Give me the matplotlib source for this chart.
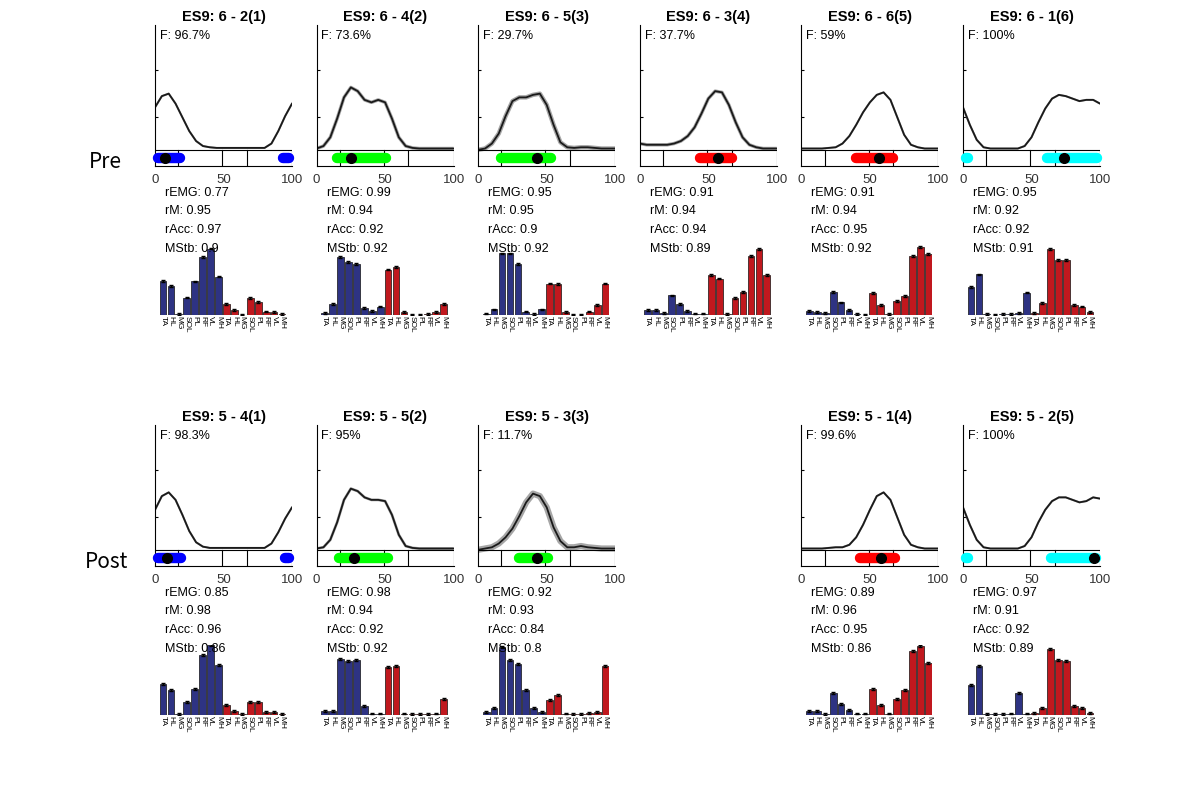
# Synergy panels, Pre and Post sessions
import numpy as np
import matplotlib.pyplot as plt

plt.rcParams['font.family'] = ['Liberation Sans', 'DejaVu Sans']

# ---- data ----
cycle_pct = list(range(0, 101, 5))
muscles = ['TA', 'HL', 'MG', 'SOL', 'PL', 'RF', 'VL', 'MH']
phase_lines = [17, 49, 67]

pre_titles = ['ES9: 6 - 2(1)', 'ES9: 6 - 4(2)', 'ES9: 6 - 5(3)',
              'ES9: 6 - 3(4)', 'ES9: 6 - 6(5)', 'ES9: 6 - 1(6)']
pre_f = ['96.7%', '73.6%', '29.7%', '37.7%', '59%', '100%']
pre_remg = [0.77, 0.99, 0.95, 0.91, 0.91, 0.95]
pre_rm = [0.95, 0.94, 0.95, 0.94, 0.94, 0.92]
pre_racc = [0.97, 0.92, 0.9, 0.94, 0.95, 0.92]
pre_mstb = [0.9, 0.92, 0.92, 0.89, 0.92, 0.91]
pre_curves = [
    [0.34, 0.43, 0.45, 0.37, 0.26, 0.15, 0.07, 0.03, 0.02, 0.015, 0.015,
     0.015, 0.015, 0.015, 0.015, 0.015, 0.015, 0.05, 0.15, 0.27, 0.37],
    [0.01, 0.03, 0.10, 0.25, 0.42, 0.50, 0.47, 0.40, 0.38, 0.40, 0.38,
     0.25, 0.10, 0.03, 0.015, 0.01, 0.01, 0.01, 0.01, 0.01, 0.01],
    [0.0, 0.01, 0.05, 0.13, 0.27, 0.39, 0.42, 0.42, 0.44, 0.45, 0.36,
     0.20, 0.06, 0.02, 0.015, 0.02, 0.02, 0.015, 0.01, 0.01, 0.01],
    [0.05, 0.04, 0.04, 0.04, 0.04, 0.05, 0.07, 0.11, 0.18, 0.29, 0.41,
     0.47, 0.46, 0.36, 0.22, 0.10, 0.04, 0.02, 0.01, 0.01, 0.01],
    [0.01, 0.01, 0.01, 0.01, 0.015, 0.02, 0.05, 0.11, 0.20, 0.30, 0.38,
     0.44, 0.46, 0.40, 0.26, 0.12, 0.04, 0.02, 0.01, 0.01, 0.01],
    [0.34, 0.20, 0.08, 0.02, 0.01, 0.01, 0.01, 0.01, 0.01, 0.03, 0.10,
     0.22, 0.33, 0.41, 0.44, 0.43, 0.41, 0.39, 0.40, 0.40, 0.37],
]
pre_colors = ['#0000ff', '#00ff00', '#00ff00', '#ff0000', '#ff0000', '#00ffff']
pre_ranges = [[(2, 18), (93.5, 98)], [(15, 51)], [(17, 53)],
              [(44, 67)], [(40, 67)], [(2, 4), (61, 98)]]
pre_peak = [7, 25, 43, 57, 57, 73.5]
pre_bars_left = [
    [0.49, 0.41, 0.01, 0.25, 0.48, 0.83, 0.95, 0.55],
    [0.03, 0.16, 0.83, 0.76, 0.73, 0.10, 0.06, 0.12],
    [0.02, 0.08, 0.88, 0.88, 0.73, 0.05, 0.015, 0.08],
    [0.07, 0.07, 0.03, 0.28, 0.16, 0.06, 0.02, 0.02],
    [0.06, 0.04, 0.03, 0.33, 0.18, 0.07, 0.015, 0.005],
    [0.40, 0.58, 0.015, 0.005, 0.01, 0.01, 0.025, 0.32],
]
pre_bars_right = [
    [0.16, 0.07, 0.005, 0.24, 0.19, 0.05, 0.045, 0.01],
    [0.65, 0.69, 0.04, 0.005, 0.005, 0.015, 0.04, 0.16],
    [0.45, 0.44, 0.04, 0.005, 0.005, 0.05, 0.14, 0.45],
    [0.57, 0.52, 0.01, 0.24, 0.33, 0.84, 0.94, 0.57],
    [0.31, 0.14, 0.015, 0.20, 0.27, 0.84, 0.97, 0.87],
    [0.025, 0.17, 0.94, 0.79, 0.79, 0.14, 0.12, 0.04],
]

post_titles = ['ES9: 5 - 4(1)', 'ES9: 5 - 5(2)', 'ES9: 5 - 3(3)',
               'ES9: 5 - 1(4)', 'ES9: 5 - 2(5)']
post_f = ['98.3%', '95%', '11.7%', '99.6%', '100%']
post_remg = [0.85, 0.98, 0.92, 0.89, 0.97]
post_rm = [0.98, 0.94, 0.93, 0.96, 0.91]
post_racc = [0.96, 0.92, 0.84, 0.95, 0.92]
post_mstb = [0.86, 0.92, 0.8, 0.86, 0.89]
post_curves = [
    [0.32, 0.43, 0.46, 0.40, 0.28, 0.15, 0.06, 0.025, 0.015, 0.015, 0.015,
     0.015, 0.015, 0.015, 0.015, 0.015, 0.015, 0.05, 0.14, 0.25, 0.34],
    [0.01, 0.02, 0.08, 0.22, 0.40, 0.49, 0.47, 0.42, 0.40, 0.40, 0.39,
     0.28, 0.12, 0.03, 0.015, 0.01, 0.01, 0.01, 0.01, 0.01, 0.01],
    [0.0, 0.01, 0.02, 0.05, 0.10, 0.17, 0.27, 0.38, 0.45, 0.43, 0.34,
     0.18, 0.07, 0.02, 0.02, 0.03, 0.02, 0.015, 0.01, 0.01, 0.01],
    [0.01, 0.01, 0.01, 0.01, 0.015, 0.02, 0.02, 0.04, 0.10, 0.20, 0.32,
     0.43, 0.46, 0.40, 0.26, 0.12, 0.04, 0.02, 0.01, 0.01, 0.01],
    [0.34, 0.20, 0.08, 0.02, 0.01, 0.01, 0.01, 0.01, 0.01, 0.03, 0.10,
     0.22, 0.32, 0.39, 0.42, 0.42, 0.40, 0.38, 0.39, 0.42, 0.41],
]
post_colors = ['#0000ff', '#00ff00', '#00ff00', '#ff0000', '#00ffff']
post_ranges = [[(2, 19), (95, 98)], [(16, 52)], [(30, 51)],
               [(43, 68)], [(2, 4), (64, 97)]]
post_peak = [9, 27, 43, 58, 95.5]
post_bars_left = [
    [0.44, 0.36, 0.01, 0.19, 0.37, 0.86, 1.0, 0.71],
    [0.06, 0.06, 0.80, 0.77, 0.79, 0.13, 0.02, 0.02],
    [0.04, 0.10, 0.97, 0.79, 0.73, 0.36, 0.10, 0.04],
    [0.06, 0.06, 0.01, 0.31, 0.16, 0.07, 0.02, 0.02],
    [0.43, 0.70, 0.01, 0.01, 0.01, 0.02, 0.31, 0.02],
]
post_bars_right = [
    [0.14, 0.06, 0.01, 0.19, 0.19, 0.04, 0.04, 0.01],
    [0.69, 0.70, 0.02, 0.01, 0.01, 0.01, 0.02, 0.23],
    [0.21, 0.29, 0.02, 0.01, 0.01, 0.03, 0.04, 0.70],
    [0.37, 0.14, 0.02, 0.23, 0.36, 0.91, 0.99, 0.74],
    [0.03, 0.10, 0.94, 0.79, 0.77, 0.13, 0.10, 0.03],
]

# ---- drawing ----
W, H = 1200, 800
fig = plt.figure(figsize=(12, 8), dpi=100)

def px_axes(x0, y_top, w, h):
    return fig.add_axes([x0 / W, 1 - (y_top + h) / H, w / W, h / H])

col_left = [155 + 161.6 * i for i in range(6)]
strip_lo = -0.13
strip_y = -0.066


def draw_panel(left, row_off, title, f_txt, stats, curve, shadow, color,
               ranges, peak, bars_l, bars_r):
    ax = px_axes(left, 25 + row_off, 137, 141)
    ax.plot(cycle_pct, curve, color='0.65', lw=shadow, solid_capstyle='butt')
    ax.plot(cycle_pct, curve, color='#1a1a1a', lw=1.3)
    ax.plot([0, 100], [0, 0], color='k', lw=0.8)
    ax.plot([100, 100], [strip_lo, 0], color='k', lw=0.8)
    for p in phase_lines:
        ax.plot([p, p], [strip_lo, 0], color='k', lw=0.8)
    for a, b in ranges:
        ax.plot([a, b], [strip_y, strip_y], color=color, lw=7.5,
                solid_capstyle='round', clip_on=False, zorder=4)
    ax.plot([peak], [strip_y], 'o', color='k', ms=7, clip_on=False, zorder=5)
    ax.set_xlim(0, 100)
    ax.set_ylim(strip_lo, 1.0)
    ax.spines['top'].set_visible(False)
    ax.spines['right'].set_visible(False)
    ax.set_xticks([0, 50, 100])
    ax.set_yticks([0.26, 0.64])
    ax.set_yticklabels([])
    ax.tick_params(axis='x', length=0, labelsize=9.5, pad=6, colors='#333333')
    ax.tick_params(axis='y', length=2, direction='in')
    ax.set_title(title, fontsize=10.5, fontweight='bold', pad=3)
    ax.text(0.035, 0.965, 'F: ' + f_txt, transform=ax.transAxes,
            va='top', ha='left', fontsize=9)
    names = ['rEMG', 'rM', 'rAcc', 'MStb']
    for k, (nm, v) in enumerate(zip(names, stats)):
        fig.text((left + 10) / W, 1 - (193 + 18.5 * k + row_off) / H,
                 f'{nm}: {v:g}', fontsize=9, va='center', ha='left')

    bx = px_axes(left + 4, 245 + row_off, 127, 70)
    heights = list(bars_l) + list(bars_r)
    xs = np.arange(len(heights))
    cols = ['#2E3383'] * len(bars_l) + ['#C0181E'] * len(bars_r)
    bx.bar(xs, heights, width=0.85, color=cols, edgecolor='#111111', lw=0.5)
    bx.errorbar(xs, heights, yerr=0.012, fmt='none', ecolor='k',
                elinewidth=0.8, capsize=1.2)
    bx.set_xlim(-0.5, len(heights) - 0.5)
    bx.set_ylim(0, 1)
    for s in bx.spines.values():
        s.set_visible(False)
    bx.set_yticks([])
    bx.set_xticks(xs)
    bx.set_xticklabels(muscles + muscles, rotation=-90, fontsize=6)
    bx.tick_params(axis='x', length=0, pad=1)


pre_shadow = [1.5, 2.5, 3.2, 2.5, 1.5, 1.5]
for i in range(6):
    draw_panel(col_left[i], 0, pre_titles[i], pre_f[i],
               [pre_remg[i], pre_rm[i], pre_racc[i], pre_mstb[i]],
               pre_curves[i], pre_shadow[i], pre_colors[i], pre_ranges[i],
               pre_peak[i], pre_bars_left[i], pre_bars_right[i])

post_cols = [0, 1, 2, 4, 5]
post_shadow = [1.5, 2.0, 4.5, 1.5, 1.5]
for j, c in enumerate(post_cols):
    draw_panel(col_left[c], 400, post_titles[j], post_f[j],
               [post_remg[j], post_rm[j], post_racc[j], post_mstb[j]],
               post_curves[j], post_shadow[j], post_colors[j], post_ranges[j],
               post_peak[j], post_bars_left[j], post_bars_right[j])

fig.text(105 / W, 1 - 162 / H, 'Pre', fontsize=15, ha='center', va='center',
         family=['Noto Sans CJK KR', 'DejaVu Sans'])
fig.text(107 / W, 1 - 562 / H, 'Post', fontsize=15, ha='center', va='center',
         family=['Noto Sans CJK KR', 'DejaVu Sans'])

fig.savefig('out.png', dpi=100, facecolor='white')
